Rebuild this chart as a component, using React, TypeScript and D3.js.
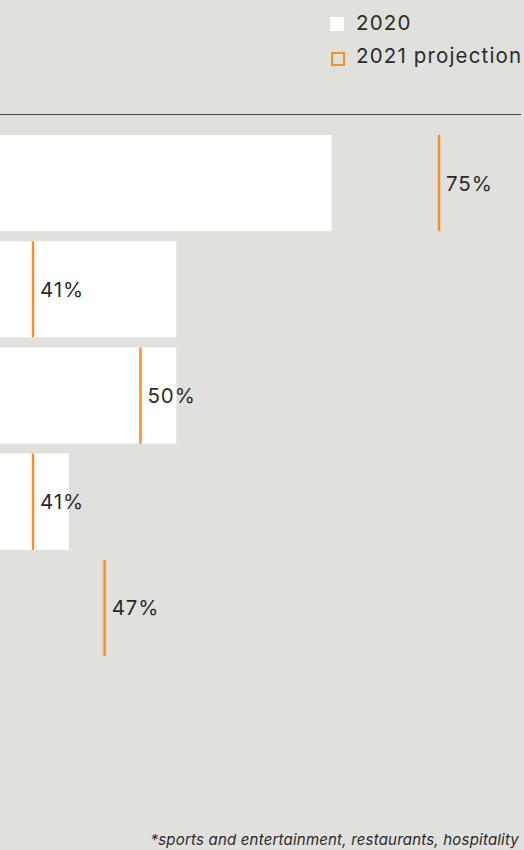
import React from "react";
import { scaleLinear, scaleBand } from "d3";

// categories are cut off on the left in the original, kept as ids
const categories = ["cat1", "cat2", "cat3", "cat4", "cat5"];
const values2020: (number | null)[] = [66, 53, 53, 44, null];
const values2021 = [75, 41, 50, 41, 47];
const legendLabels = ["2020", "2021 projection"];
const footnote = "*sports and entertainment, restaurants, hospitality";

const W = 524;
const H = 850;
const bg = "#e0e0dc";
const orange = "#f7902a";
const ink = "#2b2b2b";
const font = "Inter, 'Liberation Sans', sans-serif";

export default function App() {
  // zero sits off to the left of the visible area
  const x = scaleLinear().domain([41, 75]).range([33, 439]);
  const y = scaleBand().domain(categories).range([135, 656]).paddingInner(0.094).paddingOuter(0);
  const bh = y.bandwidth();

  return (
    <svg
      width={W}
      height={H}
      style={{ position: "absolute", left: 0, top: 0, background: bg }}
      fontFamily={font}
    >
      <rect width={W} height={H} fill={bg} />

      {/* legend */}
      <rect x={330} y={17} width={14} height={14} fill="#fff" />
      <text x={356} y={30} fontSize={20.5} letterSpacing={1.15} fill={ink}>{legendLabels[0]}</text>
      <rect x={332} y={53} width={12} height={12} fill="none" stroke={orange} strokeWidth={2} />
      <text x={356} y={63} fontSize={20.5} letterSpacing={1.15} fill={ink}>{legendLabels[1]}</text>

      <line x1={0} x2={521} y1={114.5} y2={114.5} stroke="#444" strokeWidth={1} />

      {categories.map((c, i) => {
        const v0 = values2020[i];
        const v1 = values2021[i];
        const y0 = y(c) as number;
        const xl = x(v1);
        return (
          <g key={c}>
            {v0 != null && (
              <rect x={x(0)} y={y0} width={x(v0) - x(0)} height={bh} fill="#fff" />
            )}
            <line x1={xl} x2={xl} y1={y0} y2={y0 + bh} stroke={orange} strokeWidth={2.5} />
            <text x={xl + 7} y={y0 + bh / 2 + 7.5} fontSize={20.5} letterSpacing={0.9} fill={ink}>
              {v1}%
            </text>
          </g>
        );
      })}

      <text x={519} y={845} fontSize={15} fontStyle="italic" letterSpacing={0.2} textAnchor="end" fill={ink}>
        {footnote}
      </text>
    </svg>
  );
}
